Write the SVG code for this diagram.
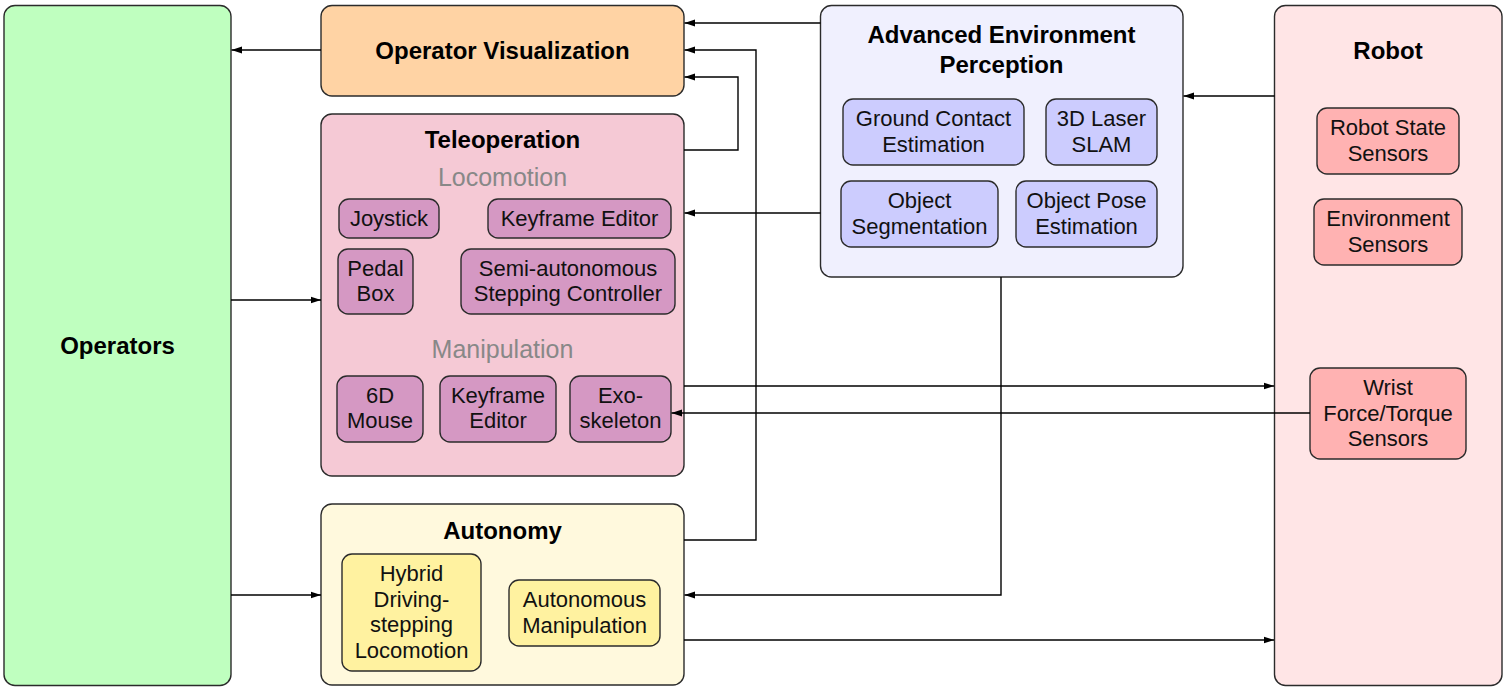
<svg xmlns="http://www.w3.org/2000/svg" width="1507" height="694" viewBox="0 0 1507 694">
<defs>
<marker id="arr" markerUnits="userSpaceOnUse" markerWidth="11" markerHeight="8" refX="10.5" refY="4" orient="auto">
<path d="M0,0.5 L10.5,4 L0,7.5 z" fill="#000"/>
</marker>
<style>
.box{stroke:#2b2b2b;stroke-width:1.4}
.t{font-family:"Liberation Sans",Arial,sans-serif;font-size:22px;fill:#111;text-anchor:middle}
.b{font-family:"Liberation Sans",Arial,sans-serif;font-size:24px;font-weight:bold;fill:#000;text-anchor:middle}
.g{font-family:"Liberation Sans",Arial,sans-serif;font-size:25px;fill:#888;text-anchor:middle}
.c{fill:none;stroke:#000;stroke-width:1.4;marker-end:url(#arr)}
.cn{fill:none;stroke:#000;stroke-width:1.4}
</style>
</defs>

<g id="operators">
<rect class="box" x="4" y="5.5" width="227" height="680" rx="11" fill="#bfffbf"/>
<text class="b" x="117.5" y="353.5">Operators</text>
</g>

<g id="operator-visualization">
<rect class="box" x="321" y="5.5" width="363" height="90.5" rx="11" fill="#ffd3a4"/>
<text class="b" x="502.5" y="59">Operator Visualization</text>
</g>

<g id="teleoperation">
<rect class="box" x="321" y="114" width="363" height="362" rx="11" fill="#f5c9d5"/>
<text class="b" x="502.5" y="148">Teleoperation</text>
<text class="g" x="502.5" y="186">Locomotion</text>
<text class="g" x="502.5" y="358">Manipulation</text>
<g id="joystick"><rect class="box" x="339" y="199" width="100" height="39" rx="10" fill="#d598c3"/><text class="t" x="389" y="225.5">Joystick</text></g>
<g id="keyframe-editor-loco"><rect class="box" x="488" y="199" width="183" height="39" rx="10" fill="#d598c3"/><text class="t" x="579.5" y="225.5">Keyframe Editor</text></g>
<g id="pedal-box"><rect class="box" x="338" y="249" width="75" height="65" rx="10" fill="#d598c3"/><text class="t" x="375.5" y="275.5">Pedal</text><text class="t" x="375.5" y="301">Box</text></g>
<g id="semi-autonomous"><rect class="box" x="461" y="249" width="214" height="65" rx="10" fill="#d598c3"/><text class="t" x="568" y="275.5">Semi-autonomous</text><text class="t" x="568" y="301">Stepping Controller</text></g>
<g id="mouse-6d"><rect class="box" x="337" y="376" width="86" height="66" rx="10" fill="#d598c3"/><text class="t" x="380" y="402.5">6D</text><text class="t" x="380" y="428">Mouse</text></g>
<g id="keyframe-editor-manip"><rect class="box" x="440" y="376" width="116" height="66" rx="10" fill="#d598c3"/><text class="t" x="498" y="402.5">Keyframe</text><text class="t" x="498" y="428">Editor</text></g>
<g id="exoskeleton"><rect class="box" x="570" y="376" width="101" height="66" rx="10" fill="#d598c3"/><text class="t" x="620.5" y="402.5">Exo-</text><text class="t" x="620.5" y="428">skeleton</text></g>
</g>

<g id="autonomy">
<rect class="box" x="321" y="504" width="363" height="181" rx="11" fill="#fff9dd"/>
<text class="b" x="502.5" y="539">Autonomy</text>
<g id="hybrid-locomotion"><rect class="box" x="342" y="554" width="139" height="117" rx="10" fill="#fff2a0"/><text class="t" x="411.5" y="581">Hybrid</text><text class="t" x="411.5" y="606.5">Driving-</text><text class="t" x="411.5" y="632">stepping</text><text class="t" x="411.5" y="657.5">Locomotion</text></g>
<g id="autonomous-manipulation"><rect class="box" x="509" y="580" width="151" height="66" rx="10" fill="#fff2a0"/><text class="t" x="584.5" y="607">Autonomous</text><text class="t" x="584.5" y="632.5">Manipulation</text></g>
</g>

<g id="perception">
<rect class="box" x="820.5" y="5.5" width="362.5" height="271.5" rx="11" fill="#f0f0fe"/>
<text class="b" x="1001.5" y="43">Advanced Environment</text>
<text class="b" x="1001.5" y="73">Perception</text>
<g id="ground-contact"><rect class="box" x="843" y="99" width="181" height="66" rx="10" fill="#ccccfe"/><text class="t" x="933.5" y="126">Ground Contact</text><text class="t" x="933.5" y="151.5">Estimation</text></g>
<g id="laser-slam"><rect class="box" x="1046" y="99" width="111" height="66" rx="10" fill="#ccccfe"/><text class="t" x="1101.5" y="126">3D Laser</text><text class="t" x="1101.5" y="151.5">SLAM</text></g>
<g id="object-segmentation"><rect class="box" x="841" y="181" width="157" height="66" rx="10" fill="#ccccfe"/><text class="t" x="919.5" y="208">Object</text><text class="t" x="919.5" y="233.5">Segmentation</text></g>
<g id="object-pose"><rect class="box" x="1016" y="181" width="141" height="66" rx="10" fill="#ccccfe"/><text class="t" x="1086.5" y="208">Object Pose</text><text class="t" x="1086.5" y="233.5">Estimation</text></g>
</g>

<g id="robot">
<rect class="box" x="1274.5" y="5.5" width="227.5" height="680" rx="11" fill="#ffe5e6"/>
<text class="b" x="1388" y="59">Robot</text>
<g id="robot-state-sensors"><rect class="box" x="1317" y="108" width="142" height="66" rx="10" fill="#ffb2b2"/><text class="t" x="1388" y="135">Robot State</text><text class="t" x="1388" y="160.5">Sensors</text></g>
<g id="environment-sensors"><rect class="box" x="1314" y="199" width="148" height="66" rx="10" fill="#ffb2b2"/><text class="t" x="1388" y="226">Environment</text><text class="t" x="1388" y="251.5">Sensors</text></g>
<g id="wrist-sensors"><rect class="box" x="1310" y="368" width="156" height="91" rx="10" fill="#ffb2b2"/><text class="t" x="1388" y="395">Wrist</text><text class="t" x="1388" y="420.5">Force/Torque</text><text class="t" x="1388" y="446">Sensors</text></g>
</g>

<g id="connectors">
<path class="c" d="M321,50 H231.5"/>
<path class="c" d="M820.5,23 H684.5"/>
<path class="c" d="M684,540 H756 V50 H684.5"/>
<path class="c" d="M684,150 H738 V77 H684.5"/>
<path class="c" d="M820.5,213 H684.5"/>
<path class="c" d="M231,300 H321"/>
<path class="c" d="M231,595 H321"/>
<path class="c" d="M684,386 H1274"/>
<path class="c" d="M1310,413 H671.5"/>
<path class="c" d="M1001,277 V595 H684.5"/>
<path class="c" d="M684,640 H1274"/>
<path class="c" d="M1274.5,96 H1183.5"/>
</g>
</svg>
